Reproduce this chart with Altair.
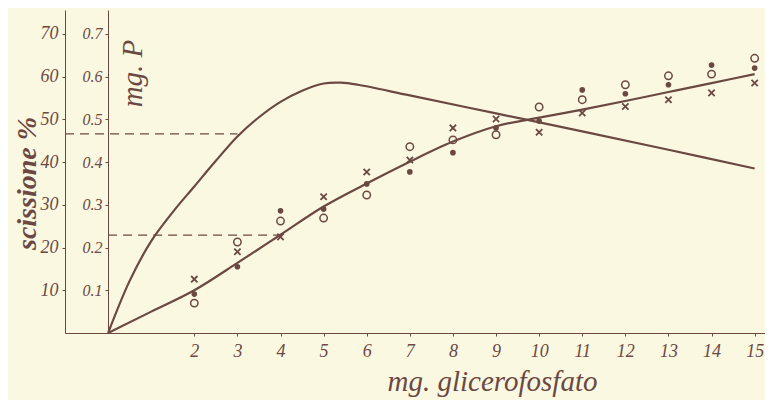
import altair as alt
import pandas as pd

# ---- data ----
dose = [2, 3, 4, 5, 6, 7, 8, 9, 10, 11, 12, 13, 14, 15]
open_vals = [7.0, 21.3, 26.2, 26.9, 32.3, 43.6, 45.2, 46.4, 52.9, 54.6, 58.1, 60.2, 60.6, 64.3]
dot_vals = [9.1, 15.5, 28.6, 29.0, 34.9, 37.7, 42.2, 48.0, 49.6, 56.9, 56.0, 58.1, 62.7, 62.0]
cross_vals = [12.6, 19.0, 22.5, 31.9, 37.7, 40.5, 48.0, 50.1, 47.0, 51.5, 53.0, 54.6, 56.2, 58.5]

scis_x = [0, 1, 2, 3, 4, 5, 6, 7, 8, 9, 10, 11, 12, 13, 14, 15]
scis_y = [0, 5.0, 10.0, 16.4, 23.0, 29.6, 35.0, 40.1, 44.8, 48.4, 50.4, 52.3, 54.3, 56.4, 58.5, 60.6]

p_x = [0, 0.5, 1, 1.5, 2, 2.5, 3, 3.5, 4, 4.5, 5, 5.4, 5.8, 7, 9, 11, 13, 15]
p_y = [0, 0.122, 0.215, 0.283, 0.343, 0.403, 0.46, 0.505, 0.541, 0.567, 0.584, 0.586, 0.581,
       0.556, 0.514, 0.472, 0.429, 0.385]

dash_x = [-1, 0]
dash_x2 = [3, 4]
dash_y = [46.6, 22.9]

pct_ticks = [10, 20, 30, 40, 50, 60, 70]
p_ticks = [0.1, 0.2, 0.3, 0.4, 0.5, 0.6, 0.7]

INK = "#6b4842"
BG = "#fbf8e2"
FONT = "Liberation Serif"

xscale = alt.Scale(domain=[-1, 15.24], nice=False, zero=False)
yscale = alt.Scale(domain=[0, 75.6], nice=False)
pscale = alt.Scale(domain=[0, 0.756], nice=False)

xaxis = alt.Axis(values=dose, grid=False, tickSize=3, tickColor=INK, domainColor=INK,
                 labelColor=INK, labelFont=FONT, labelFontStyle="italic", labelFontSize=18,
                 labelPadding=6, title="mg. glicerofosfato", titleFont=FONT,
                 titleFontStyle="italic", titleFontSize=29, titleFontWeight="normal",
                 titleColor=INK, titleX=427, titleY=57, titleAlign="center",
                 titleBaseline="alphabetic")
yaxis = alt.Axis(values=pct_ticks, grid=False, tickSize=3, tickColor=INK, domainColor=INK,
                 labelColor=INK, labelFont=FONT, labelFontStyle="italic", labelFontSize=18,
                 labelPadding=4, title="scissione %", titleFont=FONT, titleFontStyle="italic",
                 titleFontWeight="bold", titleFontSize=28, titleColor=INK, titleX=-38,
                 titleY=173, titleAlign="center", titleBaseline="middle", titleAngle=270)
paxis = alt.Axis(values=p_ticks, format=".1f", orient="left", offset=-43, grid=False,
                 tickSize=3, tickColor=INK, domainColor=INK, labelColor=INK, labelFont=FONT,
                 labelFontStyle="italic", labelFontSize=16, labelPadding=3, title="mg. P",
                 titleFont=FONT, titleFontStyle="italic", titleFontSize=29,
                 titleFontWeight="normal", titleColor=INK, titleX=24, titleY=63,
                 titleAlign="center", titleBaseline="middle", titleAngle=270)

pts = pd.DataFrame({"dose": dose, "open": open_vals, "dot": dot_vals, "cross": cross_vals})
scis = pd.DataFrame({"dose": scis_x, "pct": scis_y})
pcur = pd.DataFrame({"dose": p_x, "p": p_y})
dash = pd.DataFrame({"dose": dash_x, "dose2": dash_x2, "pct": dash_y})

X = alt.X("dose:Q", scale=xscale, axis=xaxis)
Y = lambda f: alt.Y(f"{f}:Q", scale=yscale, axis=yaxis)

scis_line = alt.Chart(scis).mark_line(color=INK, strokeWidth=2.2, interpolate="monotone").encode(
    x=X, y=Y("pct"))
dashes = alt.Chart(dash).mark_rule(color=INK, strokeWidth=1.1, strokeDash=[9, 6]).encode(
    x=X, x2="dose2:Q", y=Y("pct"))
open_pts = alt.Chart(pts).mark_point(shape="circle", filled=False, color=INK, size=55,
                                     strokeWidth=1.5, opacity=1).encode(
    x=X, y=Y("open"))
dot_pts = alt.Chart(pts).mark_point(shape="circle", filled=True, color=INK, size=32,
                                    opacity=1).encode(
    x=X, y=Y("dot"))
cross_pts = alt.Chart(pts).mark_point(shape="M-1,-1L1,1M-1,1L1,-1", filled=False, color=INK,
                                      size=40, strokeWidth=1.8, opacity=1).encode(
    x=X, y=Y("cross"))

layer_a = alt.layer(dashes, scis_line, open_pts, dot_pts, cross_pts)

p_line = alt.Chart(pcur).mark_line(color=INK, strokeWidth=2.2, interpolate="catmull-rom").encode(
    x=X, y=alt.Y("p:Q", scale=pscale, axis=paxis))

chart = alt.layer(layer_a, p_line).resolve_scale(y="independent").properties(
    width=700, height=323,
    padding={"left": 57, "top": 2, "right": 0, "bottom": 67},
    autosize=alt.AutoSizeParams(type="none"),
    background=BG,
).configure_view(stroke=None)

chart.save("out.html", embed_options={"renderer": "svg", "actions": False})
